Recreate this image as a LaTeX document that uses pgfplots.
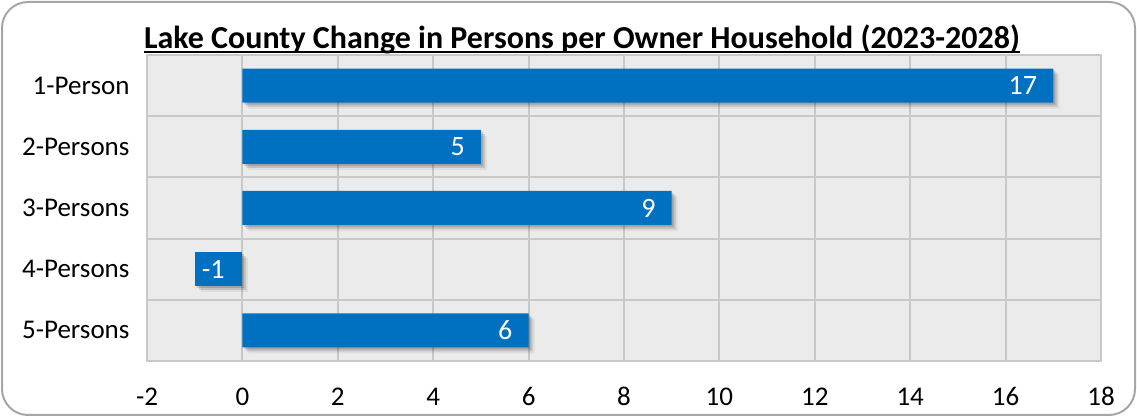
\documentclass[border=0pt]{standalone}
\usepackage{pgfplots}
\pgfplotsset{compat=1.18}
\usepackage{fontspec}
\setmainfont{Carlito}
\usetikzlibrary{shadows}
\definecolor{barblue}{HTML}{0070C0}
\definecolor{plotbg}{HTML}{EBEBEB}
\definecolor{gridc}{HTML}{C8C8C8}
\definecolor{framec}{HTML}{A6A6A6}
\pgfplotsset{softshadow/.style={
  drop shadow={shadow xshift=2pt, shadow yshift=-2pt, opacity=0.15, fill=black},
  drop shadow={shadow xshift=4pt, shadow yshift=-4pt, opacity=0.12, fill=black},
  drop shadow={shadow xshift=6pt, shadow yshift=-6pt, opacity=0.06, fill=black}}}
\begin{document}
\begin{tikzpicture}[x=1pt,y=1pt]
\path[use as bounding box] (0,0) rectangle (1137,417);
\draw[color=framec, line width=2pt, rounded corners=26pt] (2,2) rectangle (1135,415);
\begin{axis}[
  at={(147pt,56pt)}, anchor=south west,
  scale only axis, width=954pt, height=306pt,
  xmin=-2, xmax=18, ymin=-0.5, ymax=4.5, y dir=reverse,
  xbar, bar width=34pt, bar shift=0pt,
  ytick={0,1,2,3,4},
  yticklabels={1-Person,2-Persons,3-Persons,4-Persons,5-Persons},
  minor ytick={0.5,1.5,2.5,3.5},
  xtick={-2,0,2,4,6,8,10,12,14,16,18},
  xmajorgrids, yminorgrids, ymajorgrids=false,
  major tick length=0pt, minor tick length=0pt,
  axis background/.style={fill=plotbg},
  axis line style={gridc, line width=2pt},
  grid style={gridc, line width=2pt},
  minor grid style={gridc, line width=2pt},
  tick label style={font=\fontsize{27}{30}\selectfont},
  xticklabel style={anchor=base, yshift=-44pt},
  yticklabel style={xshift=-14pt},
  /pgf/number format/assume math mode=true,
  point meta=x,
  nodes near coords,
]
\addplot[fill=barblue, draw=none, softshadow,
  nodes near coords style={anchor=east, xshift=-14pt, inner sep=2pt, text=white, font=\fontsize{28}{30}\selectfont}]
  coordinates {(17,0) (5,1) (9,2) (6,4)};
\addplot[fill=barblue, draw=none, softshadow,
  nodes near coords style={anchor=west, xshift=5pt, inner sep=2pt, text=white, font=\fontsize{28}{30}\selectfont}]
  coordinates {(-1,3)};
\end{axis}
\node[font=\fontsize{32}{36}\selectfont\bfseries, inner sep=0pt, anchor=base] (title) at (582,368) {Lake County Change in Persons per Owner Household (2023-2028)};
\draw[line width=2.2pt] ([yshift=-3pt]title.base west) -- ([yshift=-3pt]title.base east);
\end{tikzpicture}
\end{document}
